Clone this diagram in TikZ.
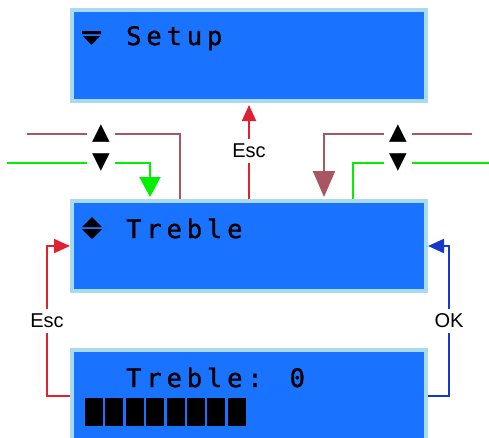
\documentclass[tikz,border=0pt]{standalone}
\usepackage{fontspec}
\setmainfont{Liberation Sans}
\newfontfamily\lcdfont[LetterSpace=19, FakeBold=1.2]{DejaVu Sans Mono}
\newfontfamily\symfont{DejaVu Sans}
\usepackage{tikz}
\usetikzlibrary{arrows.meta, positioning}
\definecolor{lcdblue}{RGB}{26,115,255}
\definecolor{lcdrim}{RGB}{170,218,238}
\definecolor{escred}{RGB}{222,34,50}
\definecolor{okblue}{RGB}{22,56,200}
\definecolor{upmauve}{RGB}{168,86,98}
\definecolor{dngreen}{RGB}{0,240,0}

\begin{document}
\begin{tikzpicture}[x=1pt, y=-1pt,
  lcd/.style={draw=lcdrim, fill=lcdblue, line width=4pt, minimum width=354pt, inner sep=0pt},
  lcdtext/.style={anchor=base west, inner sep=0pt, font=\lcdfont\fontsize{25.5}{27}\selectfont},
  key/.style={font=\symfont\fontsize{23}{24}\selectfont, inner sep=5pt},
  lbl/.style={fill=white, inner sep=5pt, font=\fontsize{20}{22}\selectfont},
  escline/.style={draw=escred, line width=2pt, -{Triangle[width=14pt,length=16pt]}},
  okline/.style={draw=okblue, line width=2pt, -{Triangle[width=14pt,length=16pt]}},
  upline/.style={draw=upmauve, line width=2pt},
  dnline/.style={draw=dngreen, line width=2pt}]
\clip (0,0) rectangle (489,437);
\node[lcd, minimum height=91pt] (setup) at (249,55.5) {};
\node[lcd, minimum height=90pt] (treble) at (249,246) {};
\node[lcd, minimum height=92pt] (edit) at (249,396) {};
\node[lcdtext] (setupTxt) at (126,45) {Setup};
\node[lcdtext] (trebleTxt) at (126,238) {Treble};
\node[lcdtext] (editTxt) at (126,387) {Treble: 0};
\fill (82,31) rectangle (101,34) (83,36) -- (100,36) -- (91.5,45) -- cycle;
\fill (82,227) -- (92,217) -- (102,227) -- cycle (82,229) -- (102,229) -- (92,239) -- cycle;
\foreach \i in {0,...,7} \fill (85+20.4*\i,398) rectangle ++(18,28);
\node[key] (upL) at (101,134) {▲};
\node[key] (dnL) at (101,163) {▼};
\node[key] (upR) at (398,134) {▲};
\node[key] (dnR) at (398,163) {▼};
\coordinate (inUL) at (27,134);
\coordinate (inDL) at (7,163);
\coordinate (inUR) at (472,134);
\coordinate (inDR) at (489,163);
\draw[upline] (inUL) -- (upL) -| ([xshift=110pt]treble.north west);
\draw[dnline, -{Triangle[width=21pt,length=20pt]}, shorten >=2pt] (inDL) -- (dnL) -| ([xshift=80pt]treble.north west);
\draw[upline, -{Triangle[width=22pt,length=26pt]}, shorten >=2pt] (inUR) -- (upR) -| ([xshift=-104pt]treble.north east);
\draw[dnline] (inDR) -- (dnR) -| ([xshift=-75pt]treble.north east);
\draw[escline, shorten >=2pt] (treble) -- node[lbl] {Esc} (setup);
\draw[escline] (edit.west) -- ++(-23,0) |- node[lbl, pos=0.25] {Esc} (treble.west);
\draw[okline] (edit.east) -- ++(21,0) |- node[lbl, pos=0.25] {OK} (treble.east);
\end{tikzpicture}
\end{document}
